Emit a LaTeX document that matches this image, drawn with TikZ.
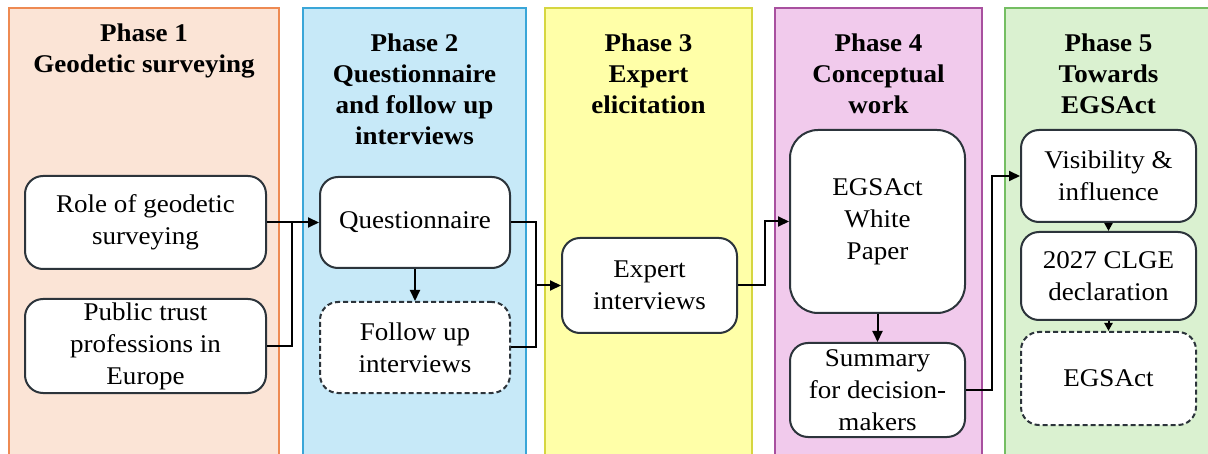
\documentclass[tikz,border=0pt]{standalone}
\usepackage{fontspec}
\setmainfont{Liberation Serif}[FakeStretch=1.06]
\usetikzlibrary{arrows.meta}
\definecolor{pOneFill}{HTML}{FBE4D6}
\definecolor{pOneLine}{HTML}{EE8A52}
\definecolor{pTwoFill}{HTML}{C7E9F8}
\definecolor{pTwoLine}{HTML}{3AA6D8}
\definecolor{pThreeFill}{HTML}{FFFFA8}
\definecolor{pThreeLine}{HTML}{D6D640}
\definecolor{pFourFill}{HTML}{F1CAEC}
\definecolor{pFourLine}{HTML}{A8509F}
\definecolor{pFiveFill}{HTML}{DAF1D0}
\definecolor{pFiveLine}{HTML}{74BE62}
\definecolor{boxLine}{HTML}{2C343B}
\tikzset{
  panel/.style={line width=2pt},
  title/.style={anchor=north, inner sep=0pt, align=center, font=\fontsize{25.5}{31}\selectfont\bfseries},
  box/.style={draw=boxLine, fill=white, line width=2pt, rounded corners=18pt, inner sep=0pt,
    align=center, font=\fontsize{25.5}{32}\selectfont},
  dbox/.style={box, dash pattern=on 5pt off 3pt},
  conn/.style={line width=2pt, black},
  arr/.style={conn, -{Triangle[length=11pt,width=10pt]}},
  sarr/.style={conn, -{Triangle[length=8pt,width=8pt]}}
}
\begin{document}
\begin{tikzpicture}[x=1pt,y=-1pt]
\useasboundingbox (0,0) rectangle (1208,454);
\fill[white] (0,0) rectangle (1208,454);
\begin{scope}
\clip (0,0) rectangle (1208,454);
\draw[panel, fill=pOneFill, draw=pOneLine] (9,8) rectangle (279,470);
\draw[panel, fill=pTwoFill, draw=pTwoLine] (303,8) rectangle (526,470);
\draw[panel, fill=pThreeFill, draw=pThreeLine] (545,8) rectangle (752,470);
\draw[panel, fill=pFourFill, draw=pFourLine] (775,8) rectangle (982,470);
\draw[panel, fill=pFiveFill, draw=pFiveLine] (1005,8) rectangle (1230,470);
\end{scope}

% titles
\node[title] (t1) at (144,24) {Phase 1\\Geodetic surveying};
\node[title] (t2) at (414.5,34) {Phase 2\\Questionnaire\\and follow up\\interviews};
\node[title] (t3) at (648.5,34) {Phase 3\\Expert\\elicitation};
\node[title] (t4) at (878.5,34) {Phase 4\\Conceptual\\work};
\node[title] (t5) at (1108.5,34) {Phase 5\\Towards\\EGSAct};

% boxes
\node[box, minimum width=241pt, minimum height=93pt] (n1) at (145.5,222.5) {Role of geodetic\\surveying};
\node[box, minimum width=241pt, minimum height=94pt] (n2) at (145.5,346) {Public trust\\professions in\\Europe};
\node[box, minimum width=190pt, minimum height=91pt] (n3) at (415,222.5) {Questionnaire};
\node[dbox, minimum width=190pt, minimum height=91pt] (n4) at (415,347.5) {Follow up\\interviews};
\node[box, minimum width=175pt, minimum height=95pt] (n5) at (649.5,285.5) {Expert\\interviews};
\node[box, rounded corners=28pt, minimum width=175pt, minimum height=183pt] (n6) at (877.5,221.5) {EGSAct\\White\\Paper};
\node[box, minimum width=175pt, minimum height=94pt] (n7) at (877.5,390) {Summary\\for decision-\\makers};
\node[box, minimum width=175pt, minimum height=92pt] (n8) at (1108.5,176) {Visibility \&\\influence};
\node[box, minimum width=175pt, minimum height=88pt] (n9) at (1108.5,276) {2027 CLGE\\declaration};
\node[dbox, minimum width=175pt, minimum height=93pt] (n10) at (1108.5,378.5) {EGSAct};

% junctions
\coordinate (j1) at (292,222.5);
\coordinate (j2) at (536,285.5);
\coordinate (j3) at (765,285.5);
\coordinate (j4) at (992,390);

% connectors
\draw[arr] (n1.east) -- (n3.west);
\draw[conn] (n2.east) -| (j1);
\draw[conn] (n3.east) -| (j2);
\draw[conn] (n4.east) -| (j2);
\draw[arr] (j2) -- (n5.west);
\draw[arr] (n5.east) -- (j3) |- (n6.west);
\draw[arr] (n7.east) -- (j4) |- (n8.west);
\draw[arr] (n3.south) -- (n4.north);
\draw[arr] (n6.south) -- (n7.north);
\draw[sarr] (n8.south) -- (n9.north);
\draw[sarr] (n9.south) -- (n10.north);
\end{tikzpicture}
\end{document}
